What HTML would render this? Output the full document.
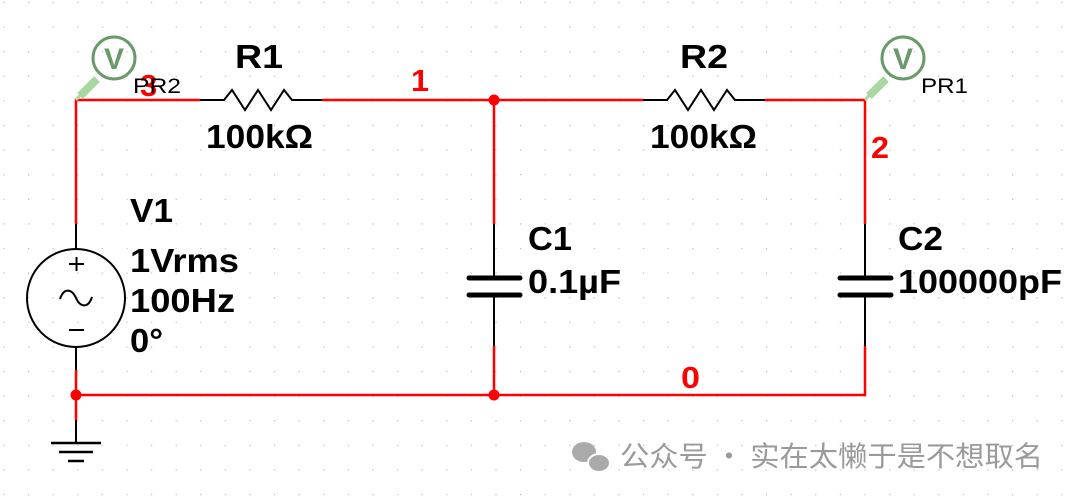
<!DOCTYPE html>
<html><head><meta charset="utf-8"><style>
html,body{margin:0;padding:0;background:#fff;}
svg{display:block;}
.b{font-family:"Liberation Sans",sans-serif;font-weight:bold;font-size:33px;fill:#000;}
.r{font-family:"Liberation Sans",sans-serif;font-weight:bold;font-size:31px;fill:#f00;}
</style></head><body>
<svg width="1080" height="499" viewBox="0 0 1080 499" xmlns="http://www.w3.org/2000/svg">
<defs><pattern id="g" x="3.4" y="1.9" width="24.6" height="24.6" patternUnits="userSpaceOnUse"><rect x="0" y="0" width="1.2" height="1.2" fill="#b8b8b8"/></pattern></defs>
<rect width="1080" height="499" fill="url(#g)"/>
<g fill="none" stroke-width="2.5">
<path d="M76 224 V100 H200 M322 100 H643 M765 100 H865 V224 M494 100 V224 M494 346 V395 M865 346 V395 H76 M76 370 V420" stroke="#f00"/>
<path d="M200 100 H224 L232 90 L245 110 L258 90 L271 110 L284 90 L292 100 H322" stroke="#000" stroke-width="2"/>
<path d="M643 100 H667 L675 90 L688 110 L701 90 L714 110 L727 90 L735 100 H765" stroke="#000" stroke-width="2"/>
<path d="M494 224 V278 M494 295 V346 M865 224 V278 M865 295 V346" stroke="#000" stroke-width="2"/>
<path d="M469 278 H520 M469 295 H520 M840 278 H891 M840 295 H891" stroke="#000" stroke-width="5" stroke-linecap="round"/>
<path d="M76 224 V249 M76 347 V370 M76 420 V443" stroke="#000" stroke-width="2"/>
<circle cx="76" cy="298" r="49" stroke="#000" stroke-width="2"/>
<path d="M69 264 H84 M76.5 257 V271 M69 330 H84" stroke="#000" stroke-width="2"/>
<path d="M60 299 C64 287 72 289 76 298 C80 307 88 309 92 297" stroke="#000" stroke-width="2"/>
<path d="M51 443 H101 M59 452 H93 M68 461 H84" stroke="#000" stroke-width="2.5"/>
<path d="M80 96 L97 79" stroke="#a8d8a0" stroke-width="8"/>
<path d="M76 100 L83 92" stroke="#a8d8a0" stroke-width="3"/>
<circle cx="114" cy="58" r="21" stroke="#6a9a6a" stroke-width="3"/>
<path d="M869 96 L886 79" stroke="#a8d8a0" stroke-width="8"/>
<path d="M865 100 L872 92" stroke="#a8d8a0" stroke-width="3"/>
<circle cx="903" cy="58" r="21" stroke="#6a9a6a" stroke-width="3"/>
</g>
<text x="114" y="69" text-anchor="middle" font-family="Liberation Sans,sans-serif" font-weight="bold" font-size="30" fill="#6a9a6a">V</text>
<text x="903" y="69" text-anchor="middle" font-family="Liberation Sans,sans-serif" font-weight="bold" font-size="30" fill="#6a9a6a">V</text>
<circle cx="494" cy="100" r="5.5" fill="#f00"/>
<circle cx="494" cy="395" r="5.5" fill="#f00"/>
<circle cx="76" cy="395" r="5.5" fill="#f00"/>
<text class="r" x="140" y="96" font-size="27">3</text>
<text x="133" y="93" font-family="Liberation Sans,sans-serif" font-size="21" fill="#000" textLength="48" lengthAdjust="spacingAndGlyphs">PR2</text>
<text x="921" y="93" font-family="Liberation Sans,sans-serif" font-size="21" fill="#000" textLength="47" lengthAdjust="spacingAndGlyphs">PR1</text>
<text class="b" x="235" y="68" textLength="48" lengthAdjust="spacingAndGlyphs">R1</text>
<text class="b" x="206" y="148" textLength="107" lengthAdjust="spacingAndGlyphs">100kΩ</text>
<text class="b" x="680" y="68" textLength="48" lengthAdjust="spacingAndGlyphs">R2</text>
<text class="b" x="650" y="148" textLength="107" lengthAdjust="spacingAndGlyphs">100kΩ</text>
<text class="r" x="411" y="91" textLength="18" lengthAdjust="spacingAndGlyphs">1</text>
<text class="r" x="871" y="158" textLength="18" lengthAdjust="spacingAndGlyphs">2</text>
<text class="r" x="681" y="388" textLength="19" lengthAdjust="spacingAndGlyphs">0</text>
<text class="b" x="130" y="222" textLength="43" lengthAdjust="spacingAndGlyphs">V1</text>
<text class="b" x="130" y="272" textLength="109" lengthAdjust="spacingAndGlyphs">1Vrms</text>
<text class="b" x="130" y="312" textLength="105" lengthAdjust="spacingAndGlyphs">100Hz</text>
<text class="b" x="130" y="352" textLength="33" lengthAdjust="spacingAndGlyphs">0°</text>
<text class="b" x="528" y="250" textLength="44" lengthAdjust="spacingAndGlyphs">C1</text>
<text class="b" x="528" y="293" textLength="93" lengthAdjust="spacingAndGlyphs">0.1µF</text>
<text class="b" x="898" y="250" textLength="45" lengthAdjust="spacingAndGlyphs">C2</text>
<text class="b" x="898" y="293" textLength="164" lengthAdjust="spacingAndGlyphs">100000pF</text>
<g fill="#aaa">
<ellipse cx="584" cy="452" rx="12" ry="10"/>
<ellipse cx="599" cy="463" rx="11" ry="9" stroke="#fff" stroke-width="2"/>
</g>
<text x="620" y="466" font-family="'Noto Sans CJK SC',sans-serif" font-size="28" fill="#9a9a9a" textLength="423" lengthAdjust="spacingAndGlyphs">公众号 · 实在太懒于是不想取名</text>
</svg>
</body></html>
